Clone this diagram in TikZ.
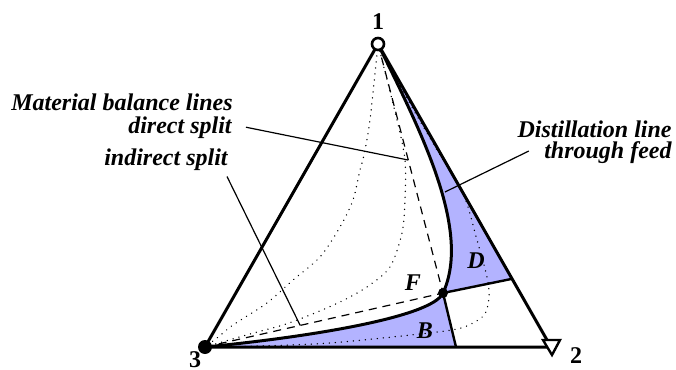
\documentclass[tikz,border=0pt]{standalone}
\usepackage{fontspec}
\setmainfont{Liberation Serif}
\usetikzlibrary{calc}
\definecolor{regionblue}{RGB}{179,179,255}

\begin{document}
\begin{tikzpicture}[x=0.5pt,y=-0.5pt,
    sideline/.style={line width=1.5pt, line join=round},
    prodline/.style={line width=1.2pt},
    leader/.style={line width=0.6pt},
    balance/.style={line width=0.6pt, dash pattern=on 4pt off 3pt},
    dotline/.style={line width=0.75pt, dash pattern=on 0.01pt off 3pt, line cap=round},
    txt/.style={font=\fontsize{12}{14}\selectfont\bfseries\itshape, inner sep=0pt},
    num/.style={font=\fontsize{12}{14}\selectfont\bfseries, inner sep=0pt}]
    \useasboundingbox (0,0) rectangle (676,370);

    % corners of the triangle and the feed
    \coordinate (v1) at (378,44);
    \coordinate (v2) at (551,347);
    \coordinate (v3) at (205,347);
    \coordinate (F) at (443,293);
    \coordinate (Dend) at ($(v1)!0.775!(v2)$);
    \coordinate (Bend) at (456,347);

    % product regions
    \fill[regionblue] (v1) .. controls (420,130) and (472,230) .. (F) -- (Dend) -- cycle;
    \fill[regionblue] (F) .. controls (432,318) and (300,338) .. (v3) -- (Bend) -- cycle;

    % residue curves
    \draw[dotline] plot[smooth] coordinates {(378,44) (370,120) (364,155) (360,170) (353,200) (340,227) (320,257) (293,280) (267,303) (233,325) (217,338) (205,347)};
    \draw[dotline] plot[smooth] coordinates {(378,44) (397,120) (405,160) (405,200) (402,233) (390,267) (367,287) (340,302) (310,315) (283,325) (250,334) (205,347)};
    \draw[dotline] plot[smooth] coordinates {(378,44) (405,95) (437,150) (463,193) (477,240) (487,277) (489,297) (485,314) (473,323) (457,329) (420,334) (330,343) (260,346) (205,347)};

    % material balance lines
    \draw[balance] (v1) -- (F);
    \draw[balance] (v3) -- (F);

    % distillation line through feed
    \draw[sideline] (v1) .. controls (420,130) and (472,230) .. (F)
        .. controls (432,318) and (300,338) .. (v3);
    \draw[prodline] (Dend) -- (F) -- (Bend);
    \fill (F) circle (2.5pt);

    % triangle
    \draw[sideline] (v3) -- (v1) -- (v2) -- cycle;

    % pure components
    \draw[line width=1.3pt, fill=white] (v1) circle (3pt);
    \fill (v3) circle (3.5pt);
    \draw[line width=1.2pt, fill=white, line join=miter] (543,340) -- (560,340) -- (552,355) -- cycle;

    \node[num] (n1) at (378,22) {1};
    \node[num] (n2) at (576,356) {2};
    \node[num] (n3) at (195,360) {3};
    \node[txt] (Flbl) at (413,283) {F};
    \node[txt] (Dlbl) at (476,261) {D};
    \node[txt] (Blbl) at (425,331) {B};

    % labels and leaders
    \node[txt, anchor=base east] (mbl) at (233,110) {Material balance lines};
    \node[txt, anchor=base east] (dsl) at (232,133) {direct split};
    \node[txt, anchor=base east] (isl) at (228,165) {indirect split};
    \node[txt, anchor=base east] (dll) at (672,137) {Distillation line};
    \node[txt, anchor=base east] (tfl) at (672,158) {through feed};

    \coordinate (ds) at ($(v1)!0.466!(F)$);
    \coordinate (is) at ($(v3)!0.4!(F)$);
    \coordinate (dl) at (445,192);
    \draw[leader] ([xshift=7pt]dsl.east) -- (ds);
    \draw[leader] ([shift={(-1,6)}]isl.south east) -- (is);
    \draw[leader] ([shift={(-15,-7)}]tfl.base west) -- (dl);
\end{tikzpicture}
\end{document}
